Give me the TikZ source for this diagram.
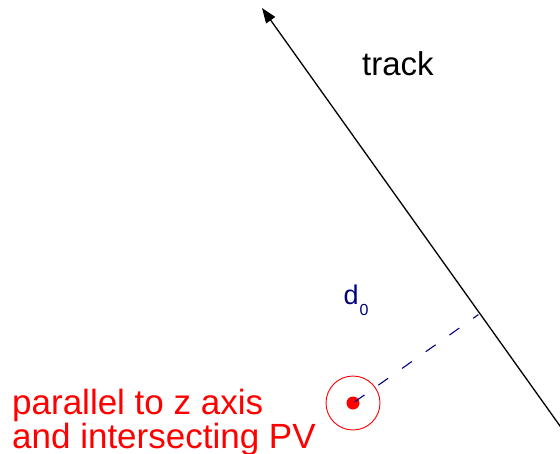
\documentclass[tikz,border=0pt]{standalone}
\usepackage{fontspec}
\setmainfont{Liberation Sans}
\usetikzlibrary{arrows.meta}
\definecolor{pvred}{RGB}{255,0,0}
\definecolor{dnavy}{RGB}{0,0,128}
\tikzset{
  lbl/.style={inner sep=0pt, anchor=base west},
  trackline/.style={line width=1.3pt, -{Triangle[length=15pt,width=11pt]}},
  distline/.style={dnavy, line width=1.1pt, dash pattern=on 12pt off 17pt, dash phase=-2pt},
}
\begin{document}
\begin{tikzpicture}[x=1pt,y=-1pt]
\useasboundingbox (0,0) rectangle (560,453);
\clip (0,0) rectangle (560,453);
% track
\coordinate (tip) at (262,8);
\coordinate (tend) at (580,454);
\draw[trackline] (tend) -- (tip);
% perpendicular foot
\coordinate (foot) at (478.4,314.6);
\coordinate (pv) at (353,403);
\node[draw=pvred, line width=0.9pt, circle, minimum size=54pt, inner sep=0pt] (ring) at (pv) {};
\node[fill=pvred, circle, minimum size=13pt, inner sep=0pt] (dot) at (pv) {};
\draw[distline] (pv) -- (foot);
% labels
\node[lbl, font=\fontsize{33}{33}\selectfont] (track) at (362,75) {track};
\node[lbl, dnavy, font=\fontsize{27}{27}\selectfont] (d) at (343.5,304) {d};
\node[lbl, dnavy, font=\fontsize{16}{16}\selectfont] (sub) at (359.5,315) {0};
\node[lbl, pvred, font=\fontsize{35}{35}\selectfont] (t1) at (12,414) {parallel to z axis};
\node[lbl, pvred, font=\fontsize{35}{35}\selectfont] (t2) at (12,448) {and intersecting PV};
\end{tikzpicture}
\end{document}
